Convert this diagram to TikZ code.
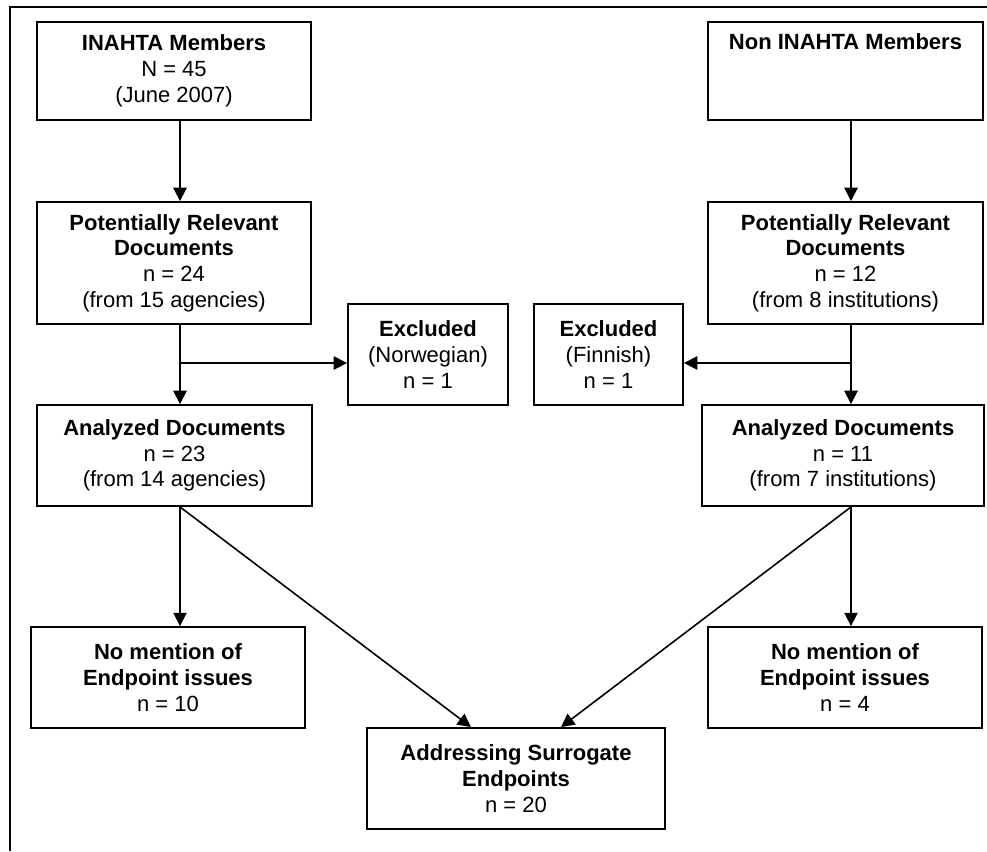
\documentclass[tikz,border=0pt]{standalone}
\usepackage{fontspec}
\setmainfont{Liberation Sans}
\usetikzlibrary{arrows.meta}

\begin{document}
\begin{tikzpicture}[x=0.75pt,y=-0.75pt,
    box/.style={draw, line width=1.4pt, align=center, inner sep=0pt,
                font=\fontsize{16.5}{19.3}\selectfont},
    sz/.style 2 args={minimum width=#1*0.75pt, minimum height=#2*0.75pt},
    arr/.style={-{Triangle[length=10pt,width=10pt]}, line width=1.2pt}]
        \useasboundingbox (0,0) rectangle (987,851);
        \draw[line width=1.6pt] (10,851) -- (10,7) -- (987,7);
        % left column
        \node[box, sz={274}{98}]  (inahta) at (174,71)    {\textbf{INAHTA Members}\\N = 45\\(June 2007)};
        \node[box, sz={274}{122}] (relL)   at (174,263)   {\textbf{Potentially Relevant}\\\textbf{Documents}\\n = 24\\(from 15 agencies)};
        \node[box, sz={160}{101}] (exclL)  at (428,354.5) {\textbf{Excluded}\\(Norwegian)\\n = 1};
        \node[box, sz={275}{101}] (anaL)   at (174.5,455.5) {\textbf{Analyzed Documents}\\n = 23\\(from 14 agencies)};
        \node[box, sz={274}{101}] (noneL)  at (168,677.5) {\textbf{No mention of}\\\textbf{Endpoint issues}\\n = 10};
        % right column
        \node[box, sz={275}{98}]  (noninahta) at (845.5,71) {\textbf{Non INAHTA Members}\\\strut\\\strut};
        \node[box, sz={275}{122}] (relR)   at (845.5,263) {\textbf{Potentially Relevant}\\\textbf{Documents}\\n = 12\\(from 8 institutions)};
        \node[box, sz={149}{101}] (exclR)  at (608.5,354.5) {\textbf{Excluded}\\(Finnish)\\n = 1};
        \node[box, sz={282}{101}] (anaR)   at (843,455.5) {\textbf{Analyzed Documents}\\n = 11\\(from 7 institutions)};
        \node[box, sz={274}{101}] (noneR)  at (845,677.5) {\textbf{No mention of}\\\textbf{Endpoint issues}\\n = 4};
        % bottom
        \node[box, sz={298}{101}] (addr)   at (516,778.5) {\textbf{Addressing Surrogate}\\\textbf{Endpoints}\\n = 20};

        \coordinate (cl) at (180,0);
        \coordinate (cr) at (851,0);
        \coordinate (bl) at (180,363);
        \coordinate (br) at (851,363);
        \draw[arr] (inahta.south -| cl) -- (relL.north -| cl);
        \draw[arr] (noninahta.south -| cr) -- (relR.north -| cr);
        \draw[arr] (relL.south -| cl) -- (anaL.north -| cl);
        \draw[arr] (relR.south -| cr) -- (anaR.north -| cr);
        \draw[arr] (bl) -- (bl -| exclL.west);
        \draw[arr] (br) -- (br -| exclR.east);
        \draw[arr] (anaL.south -| cl) -- (noneL.north -| cl);
        \draw[arr] (anaR.south -| cr) -- (noneR.north -| cr);
        \draw[arr] (anaL.south -| cl) -- ([xshift=-33.75pt]addr.north);
        \draw[arr] (anaR.south -| cr) -- ([xshift=33.75pt]addr.north);
\end{tikzpicture}
\end{document}
